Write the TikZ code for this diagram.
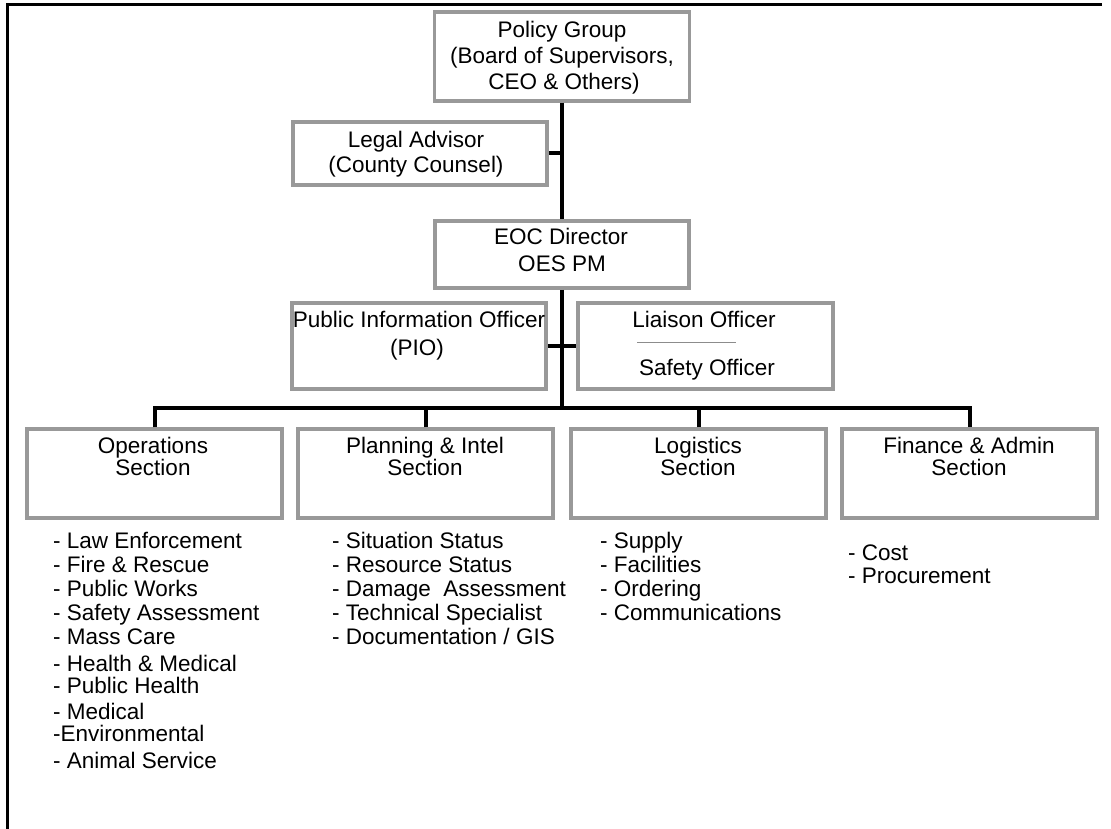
\documentclass[tikz,border=0pt]{standalone}
\usepackage{fontspec}
\setmainfont{Liberation Sans}
\definecolor{boxgray}{HTML}{999999}
\definecolor{sepgray}{HTML}{8C8C8C}
\begin{document}
\begin{tikzpicture}[x=1pt,y=-1pt,
  box/.style={draw=boxgray,line width=3.5pt,inner sep=0pt,minimum width=255pt},
  conn/.style={draw=black,line width=4pt},
  txt/.style={anchor=base,inner sep=0pt,font=\fontsize{22.5}{25}\selectfont},
  lst/.style={txt,anchor=base west},
  frameline/.style={draw=black,line width=3pt}]
\useasboundingbox (0,0) rectangle (1111,829);
% frame
\draw[frameline] (1102,5) -- (7,5) -- (7,829);
% boxes
\node[box,minimum height=89pt] (policy) at (562,56.5) {};
\node[box,minimum width=254pt,minimum height=63pt] (legal) at (420,153.5) {};
\node[box,minimum width=254pt,minimum height=67pt] (eoc) at (562,254.5) {};
\node[box,minimum width=254pt,minimum height=86pt] (pio) at (419,346) {};
\node[box,minimum height=86pt] (liaison) at (705.5,346) {};
\node[box,minimum height=89pt] (ops) at (154.5,473.5) {};
\node[box,minimum height=89pt] (plan) at (425.5,473.5) {};
\node[box,minimum height=89pt] (logi) at (698.5,473.5) {};
\node[box,minimum height=89pt] (fin) at (969.5,473.5) {};
\coordinate (bus) at (562,408);
% connectors
\draw[conn] (policy.south) -- (eoc.north);
\draw[conn] (legal.east) -- (legal.east -| eoc.north);
\draw[conn] (eoc.south) -- (bus);
\draw[conn] (pio.east) -- (liaison.west);
\draw[conn] (ops.north) |- (bus) -| (fin.north);
\draw[conn] (plan.north) -- (plan.north |- bus);
\draw[conn] (logi.north) -- (logi.north |- bus);
% texts in boxes
\node[txt] (policy1) at (562,38) {Policy Group};
\node[txt] (policy2) at (562,64) {(Board of Supervisors,};
\node[txt] (policy3) at (564,90) {CEO \& Others)};
\node[txt] (legal1) at (416,148) {Legal Advisor};
\node[txt] (legal2) at (416,173) {(County Counsel)};
\node[txt] (eoc1) at (561,244) {EOC Director};
\node[txt] (eoc2) at (562,271) {OES PM};
\node[txt] (pio1) at (419,327) {Public Information Officer};
\node[txt] (pio2) at (417,355) {(PIO)};
\node[txt] (liaison1) at (704,327) {Liaison Officer};
\draw[sepgray,line width=0.6pt] (637,342) -- (736,342);
\node[txt] (safety1) at (707,375) {Safety Officer};
\node[txt] (ops1) at (153,453) {Operations};
\node[txt] (ops2) at (153,475) {Section};
\node[txt] (plan1) at (425,453) {Planning \& Intel};
\node[txt] (plan2) at (425,475) {Section};
\node[txt] (logi1) at (698,453) {Logistics};
\node[txt] (logi2) at (698,475) {Section};
\node[txt] (fin1) at (969,453) {Finance \& Admin};
\node[txt] (fin2) at (969,475) {Section};
% lists
\node[lst] (o1) at (53,548) {- Law Enforcement};
\node[lst] (o2) at (53,572) {- Fire \& Rescue};
\node[lst] (o3) at (53,596) {- Public Works};
\node[lst] (o4) at (53,620) {- Safety Assessment};
\node[lst] (o5) at (53,644) {- Mass Care};
\node[lst] (o6) at (53,671) {- Health \& Medical};
\node[lst] (o7) at (53,693) {- Public Health};
\node[lst] (o8) at (53,719) {- Medical};
\node[lst] (o9) at (53,741) {-Environmental};
\node[lst] (o10) at (53,768) {- Animal Service};
\node[lst] (p1) at (332,548) {- Situation Status};
\node[lst] (p2) at (332,572) {- Resource Status};
\node[lst] (p3) at (332,596) {- Damage~~Assessment};
\node[lst] (p4) at (332,620) {- Technical Specialist};
\node[lst] (p5) at (332,644) {- Documentation / GIS};
\node[lst] (l1) at (600,548) {- Supply};
\node[lst] (l2) at (600,572) {- Facilities};
\node[lst] (l3) at (600,596) {- Ordering};
\node[lst] (l4) at (600,620) {- Communications};
\node[lst] (f1) at (848,560) {- Cost};
\node[lst] (f2) at (848,583) {- Procurement};
\end{tikzpicture}
\end{document}
